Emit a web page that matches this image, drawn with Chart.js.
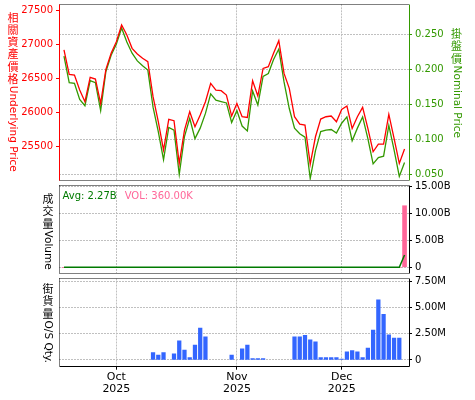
<!DOCTYPE html>
<html>
<head>
<meta charset="utf-8">
<title>Underlying / Nominal Price, Volume, O/S Qty</title>
<script src="https://cdn.jsdelivr.net/npm/chart.js@4.4.1/dist/chart.umd.min.js"></script>
<style>
  html, body { margin: 0; padding: 0; background: #fff; }
  #wrap { position: relative; width: 475px; height: 400px; }
  #wrap canvas { position: absolute; left: 0; top: 0; }
</style>
</head>
<body>
<div id="wrap">
  <canvas id="priceChart" width="475" height="400"></canvas>
  <canvas id="volChart" width="475" height="400"></canvas>
  <canvas id="osChart" width="475" height="400"></canvas>
</div>
<script>
/* ---------- data (one value per weekday, 17 Sep – 17 Dec 2025) ---------- */
const underlying = [
  26917, 26560, 26551, 26331, 26161, 26517, 26492, 26136, 26634, 26868,
  27039, 27282, 27136, 26941, 26858, 26795, 26746, 26234, 25868, 25453,
  25902, 25883, 25258, 25746, 26014, 25795, 25966, 26161, 26429, 26331,
  26322, 26258, 25951, 26136, 25941, 25931, 26468, 26244, 26648, 26673,
  26868, 27053, 26575, 26356, 25941, 25834, 25819, 25248, 25648, 25907,
  25941, 25951, 25868, 26048, 26097, 25770, 25941, 26078, 25770, 25429,
  25541, 25541, 25975, 25624, 25258, 25468,
];
const nominal = [
  0.219, 0.181, 0.180, 0.157, 0.148, 0.184, 0.181, 0.141, 0.197, 0.220,
  0.236, 0.259, 0.239, 0.223, 0.212, 0.205, 0.199, 0.146, 0.111, 0.071,
  0.117, 0.113, 0.050, 0.104, 0.130, 0.101, 0.116, 0.137, 0.165, 0.156,
  0.154, 0.152, 0.124, 0.141, 0.119, 0.112, 0.169, 0.149, 0.190, 0.194,
  0.214, 0.229, 0.182, 0.144, 0.116, 0.108, 0.103, 0.044, 0.084, 0.111,
  0.113, 0.114, 0.109, 0.123, 0.132, 0.098, 0.116, 0.132, 0.101, 0.065,
  0.074, 0.076, 0.120, 0.085, 0.047, 0.067,
];
const volume = [
  0, 0, 0, 0, 0, 0, 0, 0, 0, 0,
  0, 0, 0, 0, 0, 0, 0, 0, 0, 0,
  0, 0, 0, 0, 0, 0, 0, 0, 0, 0,
  0, 0, 0, 0, 0, 0, 0, 0, 0, 0,
  0, 0, 0, 0, 0, 0, 0, 0, 0, 0,
  0, 0, 0, 0, 0, 0, 0, 0, 0, 0,
  0, 0, 0, 0, 0, 11400000000,
];
const volAvg = [
  0, 0, 0, 0, 0, 0, 0, 0, 0, 0,
  0, 0, 0, 0, 0, 0, 0, 0, 0, 0,
  0, 0, 0, 0, 0, 0, 0, 0, 0, 0,
  0, 0, 0, 0, 0, 0, 0, 0, 0, 0,
  0, 0, 0, 0, 0, 0, 0, 0, 0, 0,
  0, 0, 0, 0, 0, 0, 0, 0, 0, 0,
  0, 0, 0, 0, 0, 2270000000,
];
const osQty = [
  null, null, null, null, null, null, null, null, null, null,
  null, null, null, null, null, null, null, 690000, 470000, 690000,
  null, 590000, 1810000, 940000, 220000, 1410000, 3030000, 2190000, null, null,
  null, null, 470000, null, 1060000, 1410000, 120000, 120000, 120000, null,
  null, null, null, null, 2190000, 2190000, 2340000, 1910000, 1720000, 220000,
  220000, 220000, 220000, 90000, 780000, 880000, 780000, 220000, 1130000, 2840000,
  5720000, 4340000, 2380000, 2090000, 2090000, null,
];

const UL_TICKS = [25500, 26000, 26500, 27000, 27500];
const NP_TICKS = [0.05, 0.10, 0.15, 0.20, 0.25];
const VOL_TICKS = [0, 5e9, 10e9, 15e9];
const OS_TICKS = [0, 2.5e6, 5e6, 7.5e6];
const MONTHS = ['Jan', 'Feb', 'Mar', 'Apr', 'May', 'Jun', 'Jul', 'Aug', 'Sep', 'Oct', 'Nov', 'Dec'];
const VOL_LEGEND = ['Avg: 2.27B', 'VOL: 360.00K'];

// weekdays on the x axis
const days = [];
for (let d = new Date(2025, 8, 17); d <= new Date(2025, 11, 17); d.setDate(d.getDate() + 1)) {
  if (d.getDay() !== 0 && d.getDay() !== 6) days.push(new Date(d));
}
const monthStarts = days.map((_, i) => i)
  .filter(i => i > 0 && days[i].getMonth() !== days[i - 1].getMonth());

/* ---------- look ---------- */
const RED = '#ff0000';
const GREEN = '#339900';
const AVG_GREEN = '#007a00';
const PINK = '#ff6699';
const BLUE = '#3366ff';
const GRID = '#c0c0c0';
const FONT = "'DejaVu Sans', sans-serif";
const CJK_FONT = "11px 'Noto Sans CJK TC', sans-serif";
const CJK_STEP = 12.2;
const LAT_FONT = "10.5px 'DejaVu Sans', sans-serif";

Chart.defaults.font.family = FONT;
Chart.defaults.font.size = 10;

const pts = arr => arr.map((v, i) => ({ x: i, y: v }));

function base(pad) {
  return {
    responsive: false,
    animation: false,
    devicePixelRatio: 1,
    events: [],
    layout: { autoPadding: false, padding: pad },
    plugins: { legend: { display: false }, tooltip: { enabled: false } },
  };
}

function xAxis(showLabels) {
  return {
    type: 'linear',
    min: -0.95,
    max: 65.85,
    offset: false,
    afterBuildTicks: s => { s.ticks = monthStarts.map(value => ({ value })); },
    afterFit: s => { s.height = showLabels ? 33.3 : 0; s.paddingLeft = 0; s.paddingRight = 0; },
    ticks: {
      display: showLabels,
      color: '#000',
      padding: 2,
      maxRotation: 0,
      autoSkip: false,
      font: { size: 11, lineHeight: 1.07 },
      callback: v => [MONTHS[days[v].getMonth()], String(days[v].getFullYear())],
    },
    grid: { offset: false, color: GRID, drawTicks: showLabels, tickLength: 3, tickColor: '#000', tickBorderDash: [] },
    border: { display: false, dash: [2, 1] },
  };
}

function yAxis({ position, min, max, values, color, fmt, width, grid }) {
  return {
    type: 'linear',
    position, min, max,
    afterBuildTicks: s => { s.ticks = values.map(value => ({ value })); },
    afterFit: s => { s.width = width; s.paddingTop = 0; s.paddingBottom = 0; },
    ticks: { color, padding: 3, callback: fmt, font: { size: 10 } },
    grid: { drawOnChartArea: grid, color: GRID, tickColor: color, tickLength: 3, tickBorderDash: [], tickWidth: 1 },
    border: { display: false, dash: [2, 1] },
  };
}

// --- panel frame (solid or dotted sides) ---
function makeFrame(sides) {
  return {
    id: 'frame',
    afterDraw(chart) {
      const { ctx, chartArea: a } = chart;
      const px = v => Math.floor(v) + 0.5;
      const x0 = px(a.left), x1 = px(a.right), y0 = px(a.top), y1 = px(a.bottom);
      const seg = (s, xa, ya, xb, yb) => {
        if (!s) return;
        ctx.save();
        ctx.strokeStyle = s.color;
        ctx.lineWidth = 1;
        ctx.setLineDash(s.dash || []);
        ctx.beginPath();
        ctx.moveTo(xa, ya);
        ctx.lineTo(xb, yb);
        ctx.stroke();
        ctx.restore();
      };
      seg(sides.top, x0, y0, x1, y0);
      seg(sides.bottom, x0, y1, x1, y1);
      seg(sides.left, x0, y0, x0, y1);
      seg(sides.right, x1, y0, x1, y1);
    },
  };
}

// --- vertical titles: CJK upright, latin turned clockwise ---
function makeVTitles(items) {
  const isCJK = /[\u3400-\u9fff]/;
  return {
    id: 'vtitle',
    afterDraw(chart) {
      const ctx = chart.ctx;
      items.forEach(it => {
        let y = it.y;
        ctx.save();
        ctx.fillStyle = it.color;
        it.text.match(/[\u3400-\u9fff]+|[^\u3400-\u9fff]+/g).forEach(run => {
          if (isCJK.test(run)) {
            ctx.font = CJK_FONT;
            ctx.textAlign = 'center';
            ctx.textBaseline = 'middle';
            for (const ch of run) { ctx.fillText(ch, it.x, y + CJK_STEP / 2); y += CJK_STEP; }
          } else {
            ctx.font = LAT_FONT;
            ctx.save();
            ctx.translate(it.x, y + 1);
            ctx.rotate(Math.PI / 2);
            ctx.textAlign = 'left';
            ctx.textBaseline = 'middle';
            ctx.fillText(run, 0, 0);
            ctx.restore();
            y += ctx.measureText(run).width;
          }
        });
        ctx.restore();
      });
    },
  };
}

// --- "Avg / VOL" text in the volume panel ---
const volLegend = {
  id: 'volLegend',
  afterDraw(chart) {
    const { ctx, chartArea: a } = chart;
    ctx.save();
    ctx.font = '10px ' + FONT;
    ctx.textBaseline = 'alphabetic';
    ctx.textAlign = 'left';
    const x = a.left + 3.5, y = a.top + 14;
    ctx.fillStyle = AVG_GREEN;
    ctx.fillText(VOL_LEGEND[0], x, y);
    ctx.fillStyle = PINK;
    ctx.fillText(VOL_LEGEND[1], x + ctx.measureText(VOL_LEGEND[0]).width + 8, y);
    ctx.restore();
  },
};

const DOT = { color: '#000', dash: [1, 1] };
const SOLID = { color: '#000' };

/* ---------- top: underlying & nominal price ---------- */
new Chart(document.getElementById('priceChart'), {
  type: 'line',
  data: {
    datasets: [
      { label: 'Underlying Price', data: pts(underlying), yAxisID: 'yUL', borderColor: RED, borderWidth: 1.3, pointRadius: 0, tension: 0 },
      { label: 'Nominal Price', data: pts(nominal), yAxisID: 'yNP', borderColor: GREEN, borderWidth: 1.3, pointRadius: 0, tension: 0 },
    ],
  },
  options: {
    ...base({ top: 4.3, bottom: 220, left: 0, right: 0 }),
    scales: {
      x: xAxis(false),
      yUL: yAxis({ position: 'left', min: 25016, max: 27585, values: UL_TICKS, color: RED, fmt: v => String(v), width: 59, grid: false }),
      yNP: yAxis({ position: 'right', min: 0.0419, max: 0.2929, values: NP_TICKS, color: GREEN, fmt: v => v.toFixed(3), width: 66, grid: true }),
    },
  },
  plugins: [
    makeFrame({ top: DOT, bottom: DOT, left: { color: RED }, right: { color: GREEN } }),
    makeVTitles([
      { text: '相關資產價格Underlying Price', x: 13, y: 11.5, color: RED },
      { text: '掛盤價Nominal Price', x: 456.5, y: 28, color: GREEN },
    ]),
  ],
});

/* ---------- middle: volume ---------- */
new Chart(document.getElementById('volChart'), {
  type: 'bar',
  data: {
    datasets: [
      { type: 'line', label: 'Avg', data: pts(volAvg), yAxisID: 'yV', borderColor: AVG_GREEN, borderWidth: 1.5, pointRadius: 0, tension: 0 },
      { type: 'bar', label: 'VOL', data: pts(volume), yAxisID: 'yV', backgroundColor: PINK, barThickness: 4 },
    ],
  },
  options: {
    ...base({ top: 185, bottom: 127, left: 59, right: 0 }),
    scales: {
      x: xAxis(false),
      yV: yAxis({ position: 'right', min: -1.05e9, max: 15.24e9, values: VOL_TICKS, color: '#000',
        fmt: v => (v === 0 ? '0' : (v / 1e9).toFixed(2) + 'B'), width: 66, grid: true }),
    },
  },
  plugins: [
    makeFrame({ top: DOT, bottom: DOT, left: DOT, right: SOLID }),
    makeVTitles([{ text: '成交量Volume', x: 48, y: 193, color: '#000' }]),
    volLegend,
  ],
});

/* ---------- bottom: outstanding quantity ---------- */
new Chart(document.getElementById('osChart'), {
  type: 'bar',
  data: {
    datasets: [
      { label: 'O/S Qty.', data: pts(osQty), yAxisID: 'yOS', backgroundColor: BLUE, barThickness: 3.6 },
    ],
  },
  options: {
    ...base({ top: 278.5, bottom: 0, left: 59, right: 0 }),
    scales: {
      x: xAxis(true),
      yOS: yAxis({ position: 'right', min: -0.64e6, max: 7.74e6, values: OS_TICKS, color: '#000',
        fmt: v => (v === 0 ? '0' : (v / 1e6).toFixed(2) + 'M'), width: 66, grid: true }),
    },
  },
  plugins: [
    makeFrame({ top: DOT, bottom: SOLID, left: DOT, right: SOLID }),
    makeVTitles([{ text: '街貨量O/S Qty.', x: 48, y: 283, color: '#000' }]),
  ],
});
</script>
</body>
</html>
